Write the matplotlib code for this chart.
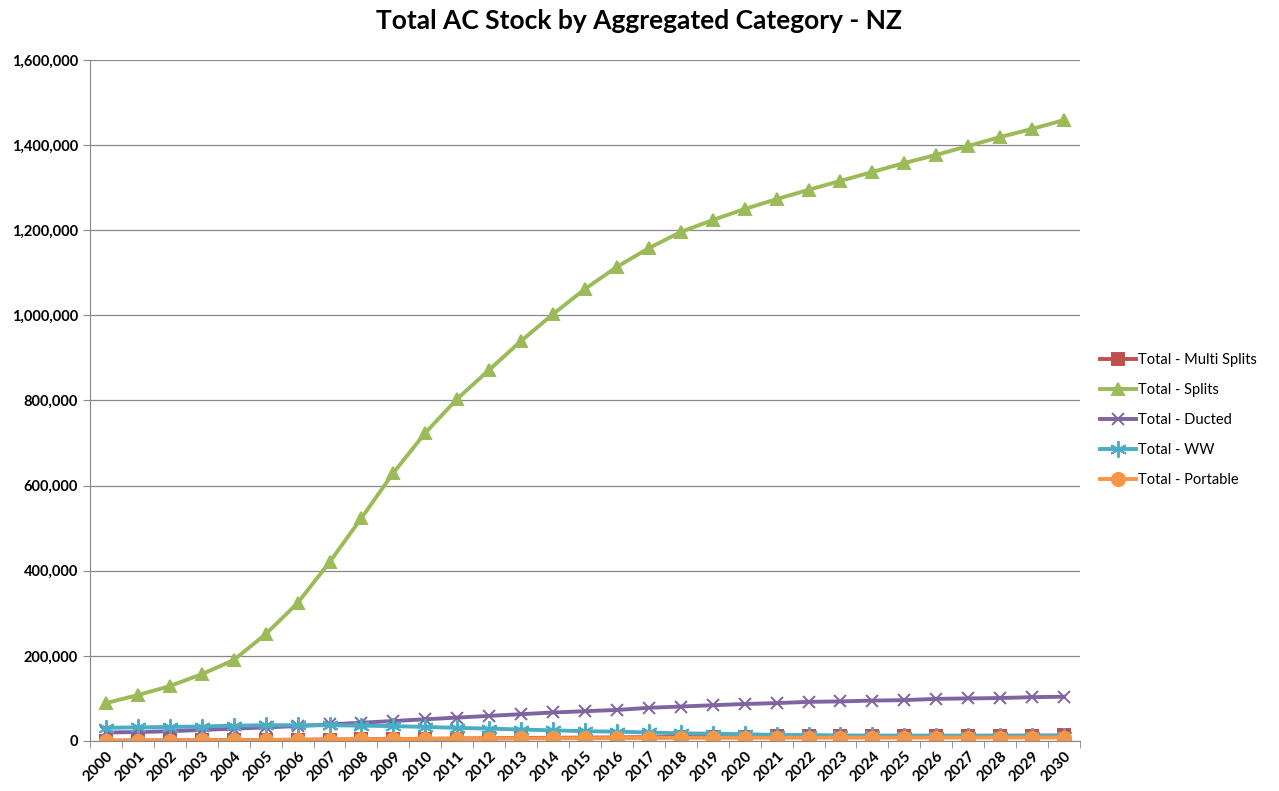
import numpy as np
import matplotlib
matplotlib.use('Agg')
import matplotlib.pyplot as plt
from matplotlib.ticker import FuncFormatter, MultipleLocator

plt.rcParams['font.family'] = ['Lato', 'DejaVu Sans']

#     *****     data     *****
years = [str(y) for y in range(2000, 2031)]

multi_splits = [1000, 1200, 1500, 1800, 2100, 2500, 3000, 3500, 4000, 4600, 5200,
                5800, 6400, 7000, 7500, 8000, 8500, 9000, 9500, 10000, 10400,
                10800, 11100, 11400, 11700, 12000, 12200, 12400, 12600, 12800, 13000]
splits = [89000, 108000, 129000, 157000, 190000, 251000, 324000, 420000, 524000,
          630000, 724000, 804000, 872000, 940000, 1003000, 1062000, 1114000,
          1158000, 1196000, 1224000, 1250000, 1273000, 1295000, 1316000, 1337000,
          1358000, 1377000, 1398000, 1419000, 1438000, 1459000]
ducted = [20000, 21000, 23000, 26000, 29000, 32000, 35000, 39000, 43000, 47000,
          51000, 55000, 59000, 63000, 67000, 70000, 73000, 78000, 81000, 84000,
          87000, 89000, 92000, 93000, 95000, 96000, 99000, 100000, 101000, 103000, 104000]
ww = [31000, 32000, 33000, 34000, 36000, 37000, 37000, 37000, 36000, 35000, 33000,
      31000, 29000, 27000, 25000, 23000, 22000, 20000, 18000, 17000, 16000, 14000,
      14000, 13000, 13000, 12500, 12500, 12000, 12000, 12000, 12000]
portable = [500, 800, 1100, 1500, 1900, 2400, 2900, 3400, 3900, 4400, 5000, 5400,
            5800, 6100, 6400, 6700, 6900, 7100, 7300, 7400, 7500, 7600, 7700, 7800,
            7800, 7900, 7900, 8000, 8000, 8000, 8100]

series = [
    ('Total - Multi Splits', multi_splits, '#C0504D', 's', 8),
    ('Total - Splits', splits, '#9BBB59', '^', 9),
    ('Total - Ducted', ducted, '#8064A2', 'x', 9),
    ('Total - WW', ww, '#4BACC6', (6, 2, 0), 12),
    ('Total - Portable', portable, '#F79646', 'o', 9.5),
]

#     *****     figure     *****
fig = plt.figure(figsize=(12.79, 7.91), dpi=100)
ax = fig.add_axes([90 / 1279, 1 - 741 / 791, 990 / 1279, 681 / 791])

x = np.arange(len(years))
for name, vals, col, mk, ms in series:
    ax.plot(x, vals, color=col, lw=2.8, marker=mk, markersize=ms,
            markeredgewidth=1.4, markeredgecolor=col, label=name)

ax.set_xlim(-0.5, len(years) - 0.5)
ax.set_ylim(0, 1600000)
ax.yaxis.set_major_locator(MultipleLocator(200000))
ax.yaxis.set_major_formatter(FuncFormatter(lambda v, p: f'{int(v):,}'))
ax.grid(axis='y', color='#888888', lw=0.9)
ax.set_axisbelow(True)

ax.set_xticks(x)
ax.set_xticklabels(years, rotation=45, ha='right', rotation_mode='anchor',
                   fontsize=11, fontweight='bold')
ax.set_xticks(np.arange(-0.5, len(years)), minor=True)
ax.tick_params(axis='x', which='major', length=0, pad=6)
ax.tick_params(axis='x', which='minor', length=5, color='#888888')
ax.tick_params(axis='y', length=5, color='#888888', labelsize=10.5)
for lab in ax.get_yticklabels():
    lab.set_fontweight('bold')

for s in ['top', 'right']:
    ax.spines[s].set_visible(False)
for s in ['left', 'bottom']:
    ax.spines[s].set_color('#888888')

fig.suptitle('Total AC Stock by Aggregated Category - NZ', fontsize=19,
             fontweight='bold', y=0.988)

fig.legend(loc='center left', bbox_to_anchor=(1094 / 1279, 1 - 420 / 791),
           frameon=False, fontsize=10.5, handlelength=2.5, labelspacing=1.1,
           handletextpad=0.1, borderaxespad=0)

fig.savefig('out.png', dpi=100)
